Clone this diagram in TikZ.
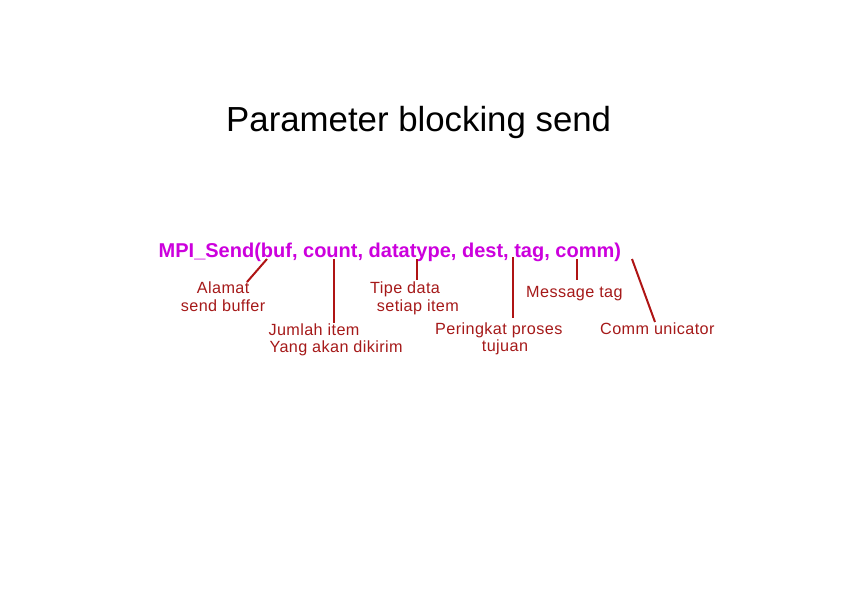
\documentclass[tikz,border=0pt]{standalone}
\usepackage{fontspec}
\setmainfont{Liberation Sans}
\newfontfamily\lblfont[LetterSpace=2.5]{Liberation Sans}
\definecolor{mag}{RGB}{204,0,221}
\definecolor{dred}{RGB}{175,20,20}
\definecolor{lred}{RGB}{165,25,25}
\begin{document}
\begin{tikzpicture}[x=1pt,y=-1pt,
  lbl/.style={anchor=base west,inner sep=0pt,text=lred,font=\lblfont\fontsize{16.2}{18}\selectfont},
  link/.style={draw=dred,line width=2pt}]
\useasboundingbox (0,0) rectangle (842,596);
\node[anchor=base west,inner sep=0pt,font=\fontsize{34.8}{40}\selectfont] (title) at (226,132) {Parameter blocking send};
\node[anchor=base west,inner sep=0pt,text=mag,font=\fontsize{20}{24}\selectfont\bfseries] (call) at (158.5,257) {MPI\_Send(buf, count, datatype, dest, tag, comm)};
% labels
\node[lbl] (alamat1) at (196.7,293) {Alamat};
\node[lbl] (alamat2) at (180.7,311) {send buffer};
\node[lbl] (tipe1) at (370,293) {Tipe data};
\node[lbl] (tipe2) at (376.7,311) {setiap item};
\node[lbl] (msg) at (526,297) {Message tag};
\node[lbl] (jml1) at (268.3,335) {Jumlah item};
\node[lbl] (jml2) at (269.3,352) {Yang akan dikirim};
\node[lbl] (per1) at (435,334) {Peringkat proses};
\node[lbl] (per2) at (481.7,351) {tujuan};
\node[lbl] (comm) at (600,334) {Comm unicator};
% connector end points
\coordinate (bufP) at (267,259);
\coordinate (bufL) at (247,282);
\coordinate (cntP) at (334,259);
\coordinate (cntL) at (334,323);
\coordinate (dtP) at (417,259);
\coordinate (dtL) at (417,280);
\coordinate (dstP) at (513,257);
\coordinate (dstL) at (513,318);
\coordinate (tagP) at (577,259);
\coordinate (tagL) at (577,280);
\coordinate (comP) at (632,259);
\coordinate (comL) at (655,322);
\draw[link] (bufP) -- (bufL);
\draw[link] (cntP) -- (cntL);
\draw[link] (dtP) -- (dtL);
\draw[link] (dstP) -- (dstL);
\draw[link] (tagP) -- (tagL);
\draw[link] (comP) -- (comL);
\end{tikzpicture}
\end{document}
